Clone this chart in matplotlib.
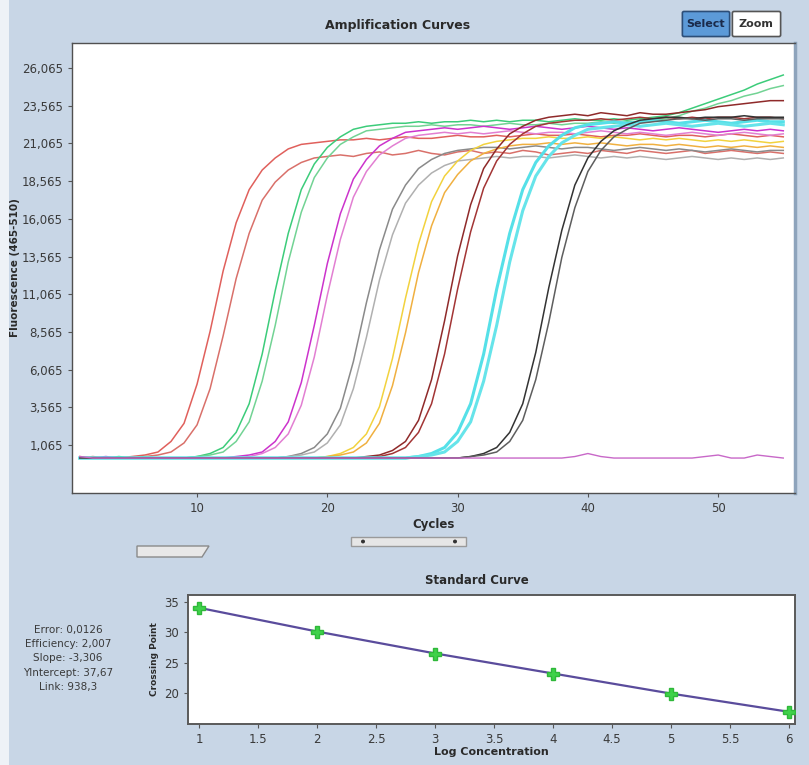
import numpy as np
import matplotlib
matplotlib.use("Agg")
import matplotlib.pyplot as plt
from matplotlib.patches import Rectangle, Polygon, FancyBboxPatch, Circle

plt.rcParams['font.family'] = ['Liberation Sans Narrow', 'DejaVu Sans']

# --- amplification data (fluorescence, thousands) per cycle 1..55 ---
cycles = np.arange(1, 56)

red1 = [0.3, 0.2, 0.2, 0.2, 0.3, 0.4, 0.6, 1.3, 2.5, 5.1,
        8.6, 12.6, 15.8, 18.0, 19.3, 20.1, 20.7, 21.0, 21.1, 21.2,
        21.3, 21.3, 21.4, 21.3, 21.4, 21.5, 21.4, 21.4, 21.5, 21.6,
        21.5, 21.5, 21.6, 21.5, 21.6, 21.7, 21.6, 21.6, 21.7, 21.6,
        21.5, 21.6, 21.6, 21.7, 21.6, 21.5, 21.6, 21.6, 21.5, 21.6,
        21.7, 21.6, 21.5, 21.6, 21.5]
red2 = [0.2, 0.3, 0.2, 0.2, 0.2, 0.3, 0.4, 0.6, 1.2, 2.4,
        4.8, 8.3, 12.1, 15.1, 17.3, 18.5, 19.3, 19.8, 20.1, 20.2,
        20.3, 20.2, 20.4, 20.5, 20.3, 20.4, 20.6, 20.4, 20.3, 20.5,
        20.6, 20.4, 20.5, 20.4, 20.6, 20.5, 20.3, 20.4, 20.5, 20.4,
        20.6, 20.5, 20.4, 20.6, 20.5, 20.4, 20.5, 20.6, 20.4, 20.5,
        20.6, 20.5, 20.4, 20.5, 20.4]
green1 = [0.2, 0.2, 0.2, 0.3, 0.2, 0.2, 0.2, 0.2, 0.2, 0.3,
          0.5, 0.9, 1.9, 3.8, 7.1, 11.3, 15.1, 18.0, 19.7, 20.8,
          21.5, 22.0, 22.2, 22.3, 22.4, 22.4, 22.5, 22.4, 22.5, 22.5,
          22.6, 22.5, 22.6, 22.5, 22.6, 22.6, 22.5, 22.6, 22.7, 22.6,
          22.6, 22.7, 22.6, 22.7, 22.8, 22.9, 23.1, 23.4, 23.7, 24.0,
          24.3, 24.6, 25.0, 25.3, 25.6]
green2 = [0.2, 0.2, 0.2, 0.2, 0.2, 0.3, 0.2, 0.2, 0.2, 0.3,
          0.4, 0.6, 1.3, 2.6, 5.3, 9.0, 13.2, 16.5, 18.8, 20.1,
          21.0, 21.5, 21.9, 22.0, 22.1, 22.2, 22.2, 22.3, 22.2, 22.3,
          22.3, 22.2, 22.3, 22.4, 22.3, 22.3, 22.4, 22.3, 22.4, 22.4,
          22.5, 22.4, 22.5, 22.5, 22.6, 22.7, 22.9, 23.2, 23.4, 23.7,
          23.9, 24.2, 24.4, 24.7, 24.9]
magenta1 = [0.2, 0.2, 0.3, 0.2, 0.2, 0.2, 0.2, 0.2, 0.2, 0.2,
            0.2, 0.2, 0.3, 0.4, 0.6, 1.3, 2.6, 5.2, 9.0, 13.1,
            16.4, 18.7, 20.0, 20.9, 21.4, 21.8, 21.9, 22.0, 22.1, 22.0,
            22.1, 22.2, 22.1, 22.0, 22.1, 22.2, 22.1, 22.0, 22.1, 22.2,
            22.1, 22.0, 22.1, 22.0, 21.9, 22.0, 22.1, 22.0, 21.9, 21.8,
            21.9, 22.0, 21.9, 22.0, 21.9]
magenta2 = [0.2, 0.2, 0.2, 0.2, 0.2, 0.2, 0.2, 0.2, 0.2, 0.2,
            0.2, 0.2, 0.2, 0.3, 0.5, 0.9, 1.8, 3.7, 6.9, 11.0,
            14.7, 17.5, 19.2, 20.3, 20.9, 21.4, 21.6, 21.7, 21.8, 21.7,
            21.8, 21.7, 21.8, 21.9, 21.8, 21.7, 21.8, 21.8, 21.7, 21.8,
            21.9, 21.8, 21.7, 21.8, 21.7, 21.6, 21.7, 21.8, 21.7, 21.6,
            21.7, 21.8, 21.7, 21.6, 21.7]
gray1 = [0.2, 0.2, 0.2, 0.2, 0.2, 0.2, 0.2, 0.2, 0.2, 0.2,
         0.2, 0.2, 0.2, 0.2, 0.2, 0.2, 0.3, 0.5, 0.9, 1.8,
         3.5, 6.6, 10.5, 14.0, 16.7, 18.3, 19.4, 20.0, 20.4, 20.6,
         20.7, 20.8, 20.8, 20.7, 20.8, 20.9, 20.8, 20.7, 20.8, 20.8,
         20.7, 20.6, 20.7, 20.8, 20.7, 20.6, 20.7, 20.6, 20.5, 20.6,
         20.7, 20.6, 20.5, 20.6, 20.6]
gray2 = [0.2, 0.2, 0.2, 0.2, 0.2, 0.2, 0.2, 0.2, 0.2, 0.2,
         0.2, 0.2, 0.2, 0.2, 0.2, 0.2, 0.3, 0.4, 0.6, 1.2,
         2.4, 4.8, 8.2, 12.0, 15.0, 17.1, 18.3, 19.1, 19.6, 19.9,
         20.0, 20.1, 20.2, 20.1, 20.2, 20.2, 20.1, 20.2, 20.3, 20.2,
         20.1, 20.2, 20.1, 20.2, 20.1, 20.0, 20.1, 20.2, 20.1, 20.0,
         20.1, 20.0, 20.1, 20.0, 20.1]
yellow1 = [0.2, 0.2, 0.2, 0.2, 0.2, 0.2, 0.2, 0.2, 0.2, 0.2,
           0.2, 0.2, 0.2, 0.2, 0.2, 0.2, 0.2, 0.2, 0.2, 0.3,
           0.5, 0.9, 1.8, 3.6, 6.8, 10.8, 14.4, 17.2, 18.9, 19.9,
           20.6, 21.0, 21.2, 21.3, 21.4, 21.4, 21.5, 21.4, 21.4, 21.5,
           21.4, 21.5, 21.4, 21.3, 21.4, 21.3, 21.4, 21.3, 21.2, 21.3,
           21.2, 21.3, 21.2, 21.1, 21.2]
yellow2 = [0.2, 0.2, 0.2, 0.2, 0.2, 0.2, 0.2, 0.2, 0.2, 0.2,
           0.2, 0.2, 0.2, 0.2, 0.2, 0.2, 0.2, 0.2, 0.2, 0.3,
           0.4, 0.6, 1.2, 2.5, 5.0, 8.5, 12.5, 15.6, 17.8, 19.0,
           19.9, 20.4, 20.7, 20.9, 21.0, 21.0, 21.1, 21.0, 21.1, 21.0,
           21.1, 21.0, 20.9, 21.0, 21.0, 20.9, 21.0, 20.9, 20.8, 20.9,
           20.8, 20.9, 20.8, 20.9, 20.8]
brown1 = [0.2, 0.2, 0.2, 0.2, 0.2, 0.2, 0.2, 0.2, 0.2, 0.2,
          0.2, 0.2, 0.2, 0.2, 0.2, 0.2, 0.2, 0.2, 0.2, 0.2,
          0.2, 0.2, 0.3, 0.4, 0.7, 1.3, 2.7, 5.4, 9.3, 13.6,
          17.0, 19.4, 20.7, 21.7, 22.2, 22.6, 22.8, 22.9, 23.0, 22.9,
          23.1, 23.0, 22.9, 23.1, 23.0, 23.0, 23.1, 23.2, 23.3, 23.5,
          23.6, 23.7, 23.8, 23.9, 23.9]
brown2 = [0.2, 0.2, 0.2, 0.2, 0.2, 0.2, 0.2, 0.2, 0.2, 0.2,
          0.2, 0.2, 0.2, 0.2, 0.2, 0.2, 0.2, 0.2, 0.2, 0.2,
          0.2, 0.2, 0.2, 0.3, 0.5, 0.9, 1.9, 3.8, 7.1, 11.4,
          15.2, 18.1, 19.9, 21.0, 21.7, 22.2, 22.4, 22.5, 22.6, 22.6,
          22.7, 22.6, 22.7, 22.8, 22.7, 22.8, 22.7, 22.8, 22.7, 22.8,
          22.8, 22.7, 22.8, 22.8, 22.7]
cyan1 = [0.2, 0.2, 0.2, 0.2, 0.2, 0.2, 0.2, 0.2, 0.2, 0.2,
         0.2, 0.2, 0.2, 0.2, 0.2, 0.2, 0.2, 0.2, 0.2, 0.2,
         0.2, 0.2, 0.2, 0.2, 0.2, 0.2, 0.3, 0.5, 0.9, 1.9,
         3.8, 7.1, 11.4, 15.1, 18.0, 19.8, 20.9, 21.6, 22.1, 22.3,
         22.4, 22.5, 22.4, 22.5, 22.6, 22.5, 22.4, 22.5, 22.6, 22.5,
         22.4, 22.5, 22.6, 22.5, 22.5]
cyan2 = [0.2, 0.2, 0.2, 0.2, 0.2, 0.2, 0.2, 0.2, 0.2, 0.2,
         0.2, 0.2, 0.2, 0.2, 0.2, 0.2, 0.2, 0.2, 0.2, 0.2,
         0.2, 0.2, 0.2, 0.2, 0.2, 0.2, 0.3, 0.4, 0.6, 1.3,
         2.6, 5.3, 9.0, 13.2, 16.6, 18.9, 20.2, 21.1, 21.6, 22.0,
         22.1, 22.2, 22.3, 22.2, 22.3, 22.4, 22.3, 22.2, 22.3, 22.4,
         22.3, 22.2, 22.3, 22.4, 22.3]
dkgray1 = [0.2, 0.2, 0.2, 0.2, 0.2, 0.2, 0.2, 0.2, 0.2, 0.2,
           0.2, 0.2, 0.2, 0.2, 0.2, 0.2, 0.2, 0.2, 0.2, 0.2,
           0.2, 0.2, 0.2, 0.2, 0.2, 0.2, 0.2, 0.2, 0.2, 0.2,
           0.3, 0.5, 0.9, 1.9, 3.8, 7.2, 11.5, 15.3, 18.3, 20.1,
           21.2, 21.9, 22.3, 22.6, 22.7, 22.8, 22.8, 22.7, 22.8, 22.8,
           22.8, 22.9, 22.8, 22.8, 22.8]
dkgray2 = [0.2, 0.2, 0.2, 0.2, 0.2, 0.2, 0.2, 0.2, 0.2, 0.2,
           0.2, 0.2, 0.2, 0.2, 0.2, 0.2, 0.2, 0.2, 0.2, 0.2,
           0.2, 0.2, 0.2, 0.2, 0.2, 0.2, 0.2, 0.2, 0.2, 0.2,
           0.3, 0.4, 0.6, 1.3, 2.7, 5.4, 9.2, 13.5, 16.8, 19.2,
           20.6, 21.5, 22.0, 22.4, 22.5, 22.6, 22.7, 22.7, 22.6, 22.7,
           22.7, 22.6, 22.7, 22.7, 22.7]
neg_ctrl = [0.3, 0.2, 0.2, 0.2, 0.2, 0.2, 0.2, 0.2, 0.2, 0.2,
            0.2, 0.2, 0.2, 0.2, 0.2, 0.2, 0.2, 0.2, 0.2, 0.2,
            0.2, 0.2, 0.2, 0.2, 0.2, 0.2, 0.2, 0.2, 0.2, 0.2,
            0.2, 0.2, 0.2, 0.2, 0.2, 0.2, 0.2, 0.2, 0.3, 0.5,
            0.3, 0.2, 0.2, 0.2, 0.2, 0.2, 0.2, 0.2, 0.3, 0.4,
            0.2, 0.2, 0.4, 0.3, 0.2]

curves = [red1, red2, green1, green2, magenta1, magenta2, gray1, gray2,
          yellow1, yellow2, brown1, brown2, cyan1, cyan2, dkgray1, dkgray2, neg_ctrl]
colors = ['#e0605c', '#d9706a', '#3ccc7a', '#72d394', '#cc33cc', '#e27fd2',
          '#8a8a8a', '#b0b0b0', '#f2d23e', '#f0b040', '#8f2a2a', '#a33535',
          '#55e0e8', '#66e4ea', '#333333', '#5e5e5e', '#c868c8']
widths = [1.1] * 12 + [2.2, 2.2] + [1.1, 1.1, 1.0]

y_ticks = [1065, 3565, 6065, 8565, 11065, 13565, 16065, 18565, 21065, 23565, 26065]
x_ticks = [10, 20, 30, 40, 50]

# --- standard curve ---
log_conc = [1, 2, 3, 4, 5, 6]
crossing_pt = [33.9, 30.05, 26.4, 23.1, 19.8, 16.9]
fit_y = [34.0, 30.1, 26.5, 23.2, 19.9, 16.9]
stats = ["Error: 0,0126", "Efficiency: 2,007", "Slope: -3,306",
         "YIntercept: 37,67", "Link: 938,3"]

W, H = 809, 765
BG = '#c8d6e6'
TXT = '#2a2a2a'


def fx(x):
    return x / W


def fy(y):
    return 1 - y / H


fig = plt.figure(figsize=(W / 100, H / 100), dpi=100)
fig.patch.set_facecolor(BG)
fig.add_artist(Rectangle((0, 0), fx(9), 1, transform=fig.transFigure,
                         facecolor='#eef2f7', edgecolor='none', zorder=0))

# === amplification curves ===
ax = fig.add_axes([fx(72), fy(493), fx(723), 450 / H])
for vals, c, lw in zip(curves, colors, widths):
    ax.plot(cycles, np.array(vals) * 1000, color=c, lw=lw, solid_joinstyle='round')
ax.set_xlim(0.4, 55.9)
ax.set_ylim(-2118, 27723)
ax.set_xticks(x_ticks)
ax.set_yticks(y_ticks)
ax.set_yticklabels([f"{v:,}" for v in y_ticks])
ax.tick_params(colors='#555555', labelcolor='#3a3a3a', labelsize=8.5, length=3, width=0.8)
for s in ax.spines.values():
    s.set_color('#505050')
    s.set_linewidth(1.0)
ax.spines['right'].set_color('#8ea4bc')
ax.spines['right'].set_linewidth(2.5)
ax.set_xlabel("Cycles", fontsize=8.5, fontweight='bold', color=TXT, labelpad=2)
ax.set_ylabel("Fluorescence (465-510)", fontsize=7.5, fontweight='bold', color=TXT)
ax.yaxis.set_label_coords((20 - 72) / 723, 0.5)

fig.text(fx(398), fy(25), "Amplification Curves", ha='center', va='center',
         fontsize=9, fontweight='bold', color=TXT, family='DejaVu Sans')

# buttons
fig.add_artist(FancyBboxPatch((fx(684), fy(35)), fx(44), 22 / H, boxstyle="round,pad=0.002",
                              transform=fig.transFigure, facecolor='#5c9ad8',
                              edgecolor='#2c4e78', lw=1.2))
fig.add_artist(FancyBboxPatch((fx(734), fy(35)), fx(45), 22 / H, boxstyle="round,pad=0.002",
                              transform=fig.transFigure, facecolor='#ffffff',
                              edgecolor='#555555', lw=1.2))
fig.text(fx(706), fy(24), "Select", ha='center', va='center', fontsize=8,
         fontweight='bold', color='#1a2a4a', family='DejaVu Sans')
fig.text(fx(756), fy(24), "Zoom", ha='center', va='center', fontsize=8,
         fontweight='bold', color='#333333', family='DejaVu Sans')

# scroll widgets
fig.add_artist(Polygon([(fx(137), fy(557)), (fx(202), fy(557)), (fx(209), fy(546)),
                        (fx(137), fy(546))], closed=True, transform=fig.transFigure,
                       facecolor='#e8e8e8', edgecolor='#8a8a8a', lw=1.0))
fig.add_artist(Rectangle((fx(351), fy(546)), fx(115), 9 / H, transform=fig.transFigure,
                         facecolor='#e6e6e6', edgecolor='#9a9a9a', lw=1.0))
for px_ in (363, 455):
    fig.add_artist(Circle((fx(px_), fy(541.5)), 0.0025, transform=fig.transFigure,
                          facecolor='#333333', edgecolor='none'))

# === standard curve ===
ax2 = fig.add_axes([fx(188), fy(724), fx(607), 129 / H])
ax2.plot(log_conc, fit_y, color='#5a4c9c', lw=1.6, zorder=2)
ax2.plot(log_conc, crossing_pt, linestyle='none', marker='P', markersize=8,
         color='#3fd24a', markeredgecolor='#2fb83a', zorder=3)
ax2.set_xlim(0.907, 6.05)
ax2.set_ylim(14.9, 36.1)
ax2.set_xticks([1, 1.5, 2, 2.5, 3, 3.5, 4, 4.5, 5, 5.5, 6])
ax2.set_xticklabels(['1', '1.5', '2', '2.5', '3', '3.5', '4', '4.5', '5', '5.5', '6'])
ax2.set_yticks([20, 25, 30, 35])
ax2.tick_params(colors='#555555', labelcolor='#3a3a3a', labelsize=8.5, length=3, width=0.8)
for s in ax2.spines.values():
    s.set_color('#5a5a5a')
    s.set_linewidth(1.4)
ax2.set_xlabel("Log Concentration", fontsize=8, fontweight='bold', color=TXT, labelpad=1)
ax2.set_ylabel("Crossing Point", fontsize=6.5, fontweight='bold', color=TXT, labelpad=4)
fig.text(fx(477), fy(580), "Standard Curve", ha='center', va='center',
         fontsize=8.5, fontweight='bold', color=TXT, family='DejaVu Sans')

for i, line in enumerate(stats):
    fig.text(fx(68), fy(630 + i * 14.2), line, ha='center', va='center',
             fontsize=7.5, color='#3a3a3a')

fig.savefig("out.png", dpi=100, facecolor=fig.get_facecolor())
